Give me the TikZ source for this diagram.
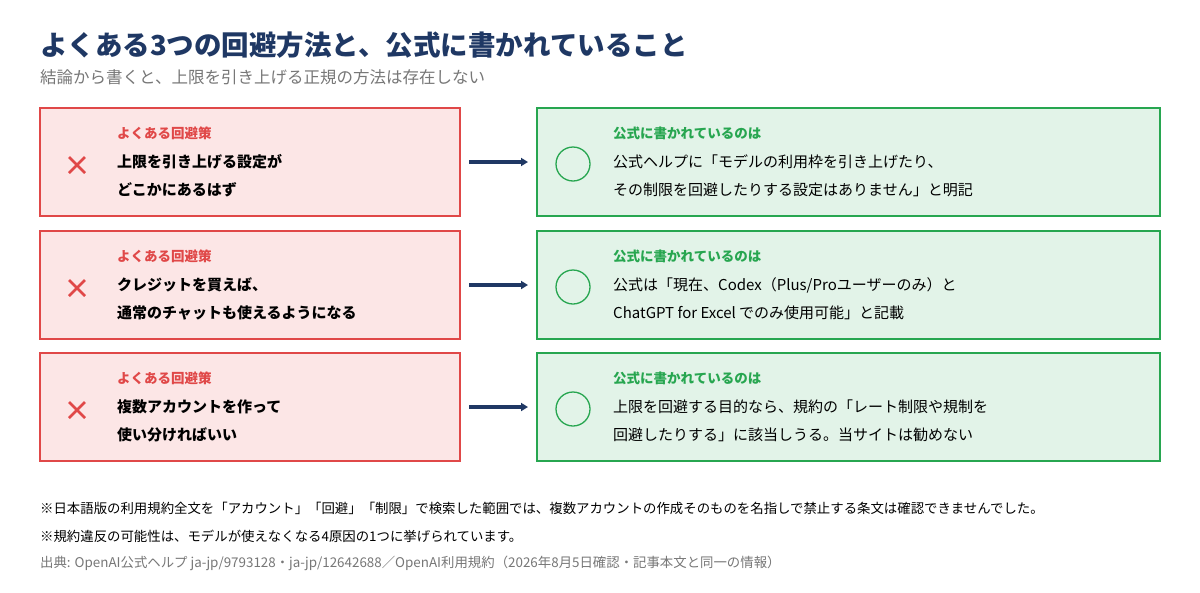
\documentclass[tikz,border=0pt]{standalone}
\usepackage{fontspec}
\usetikzlibrary{arrows.meta}
\setmainfont{Noto Sans CJK JP}
\definecolor{navy}{HTML}{1F3864}
\definecolor{rd}{HTML}{E04848}
\definecolor{rdf}{HTML}{FCE6E6}
\definecolor{gn}{HTML}{27A650}
\definecolor{gnf}{HTML}{E2F3E8}
\definecolor{gr}{HTML}{777777}
\begin{document}
\begin{tikzpicture}[x=1pt,y=-1pt,
 bad/.style={draw=rd,fill=rdf,line width=1.5pt},
 good/.style={draw=gn,fill=gnf,line width=1.5pt},
 lbl/.style={anchor=west,inner sep=0,font=\fontsize{13.5}{15}\selectfont\bfseries},
 txt/.style={anchor=west,inner sep=0,font=\fontsize{15}{17}\selectfont},
 arr/.style={draw=navy,line width=3.2pt,-{Triangle[length=7pt,width=8pt]}},
 foot/.style={anchor=west,inner sep=0,font=\fontsize{13.4}{15}\selectfont}]
\useasboundingbox[fill=white] (0,0) rectangle (1200,592);
\node[anchor=west,inner sep=0,text=navy,font=\fontsize{27.5}{30}\selectfont\bfseries] (t) at (40,45) {よくある3つの回避方法と、公式に書かれていること};
\node[anchor=west,inner sep=0,text=gr,font=\fontsize{16.5}{19}\selectfont] (st) at (40,77) {結論から書くと、上限を引き上げる正規の方法は存在しない};
\foreach \i/\y/\la/\lb/\ra/\rb in {
 1/108/{上限を引き上げる設定が}/{どこかにあるはず}/{公式ヘルプに「モデルの利用枠を引き上げたり、}/{その制限を回避したりする設定はありません」と明記},
 2/231/{クレジットを買えば、}/{通常のチャットも使えるようになる}/{公式は「現在、Codex（Plus/Proユーザーのみ）と}/{ChatGPT for Excel でのみ使用可能」と記載},
 3/353/{複数アカウントを作って}/{使い分ければいい}/{上限を回避する目的なら、規約の「レート制限や規制を}/{回避したりする」に該当しうる。当サイトは勧めない}}{
 \draw[bad] (40,\y) rectangle (460,\y+108);
 \draw[good] (537,\y) rectangle (1160,\y+108);
 \coordinate (x\i) at (77,\y+57);
 \draw[rd,line width=2.8pt] ([shift={(-8,-8)}]x\i) -- ([shift={(8,8)}]x\i) ([shift={(-8,8)}]x\i) -- ([shift={(8,-8)}]x\i);
 \node[lbl,text=rd] (a\i) at (117,\y+25) {よくある回避策};
 \node[txt,font=\fontsize{15}{17}\selectfont\bfseries] (b\i) at (117,\y+54) {\la};
 \node[txt,font=\fontsize{15}{17}\selectfont\bfseries] (c\i) at (117,\y+82) {\lb};
 \node[draw=gn,line width=1.3pt,circle,minimum size=34pt,inner sep=0] (o\i) at (573,\y+56) {};
 \node[lbl,text=gn] (d\i) at (613,\y+25) {公式に書かれているのは};
 \node[txt] (e\i) at (613,\y+54) {\ra};
 \node[txt] (f\i) at (613,\y+82) {\rb};
 \coordinate (A\i) at (469,\y+54);
 \coordinate (B\i) at (528,\y+54);
 \draw[arr] (A\i) -- (B\i);
}
\node[foot] (n1) at (40,508) {※日本語版の利用規約全文を「アカウント」「回避」「制限」で検索した範囲では、複数アカウントの作成そのものを名指しで禁止する条文は確認できませんでした。};
\node[foot] (n2) at (40,536) {※規約違反の可能性は、モデルが使えなくなる4原因の1つに挙げられています。};
\node[foot,text=gr] (n3) at (40,563) {出典: OpenAI公式ヘルプ ja-jp/9793128・ja-jp/12642688／OpenAI利用規約（2026年8月5日確認・記事本文と同一の情報）};
\end{tikzpicture}
\end{document}
